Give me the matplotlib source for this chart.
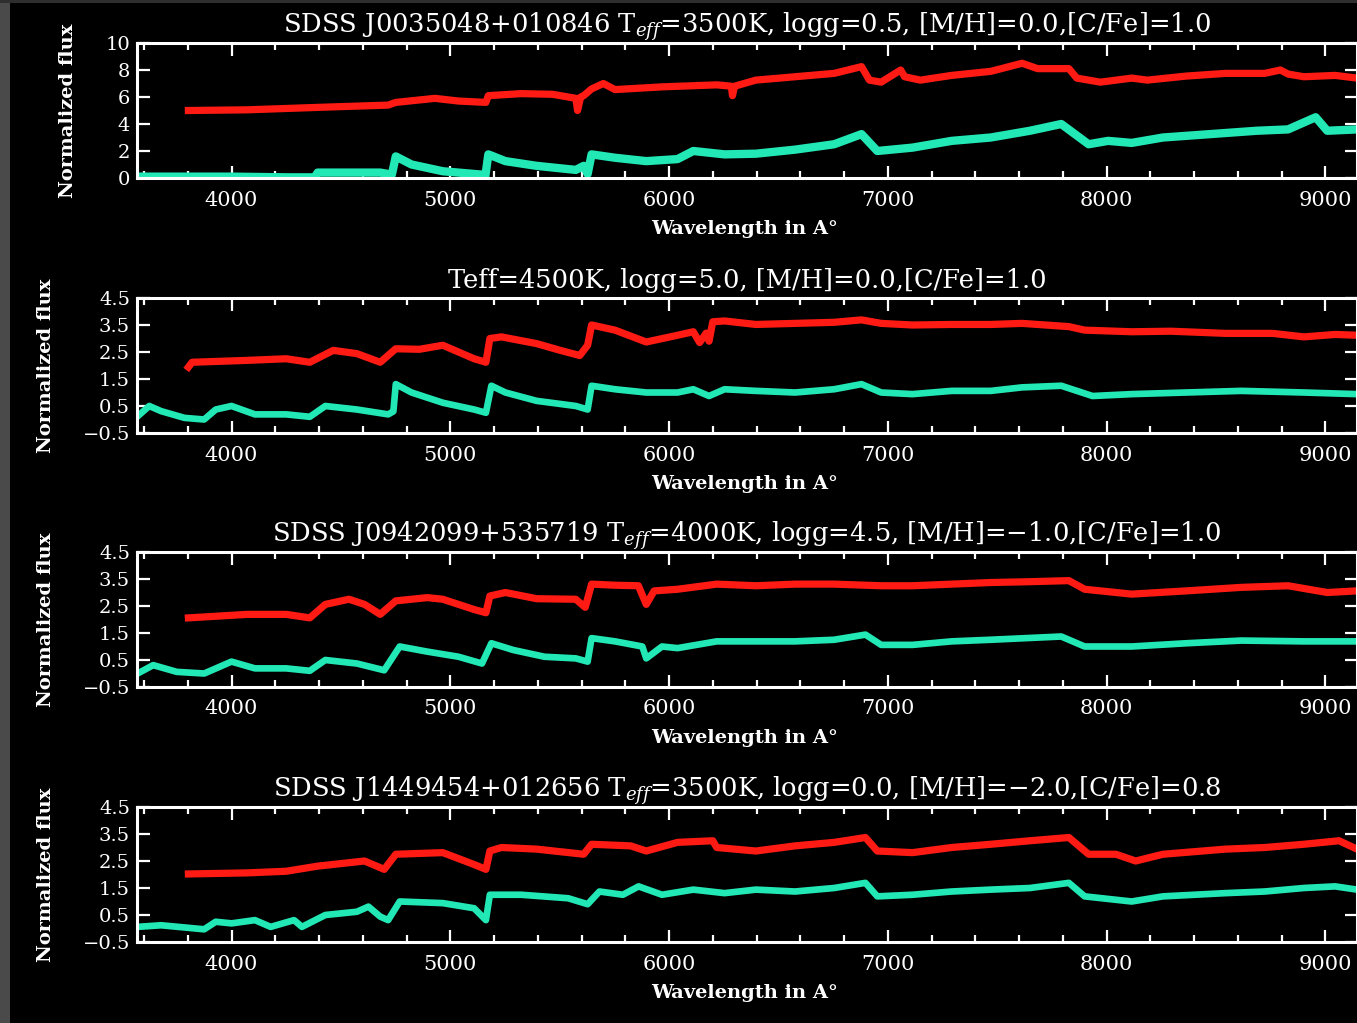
import numpy as np
import matplotlib
matplotlib.use("Agg")
import matplotlib.pyplot as plt
from matplotlib.ticker import MultipleLocator, FixedLocator
from matplotlib.patches import Rectangle

plt.rcParams['font.family'] = ['DejaVu Serif']
plt.rcParams['mathtext.fontset'] = 'dejavuserif'

RED = '#ff1a14'
CYAN = '#22e8b6'

# ---- panel 1: SDSS J0035048+010846 ----
wl_red_1 = [3803, 4072, 4429, 4716, 4751, 4930, 5038, 5163, 5174, 5324, 5467, 5539, 5574,
            5582, 5596, 5610, 5646, 5700, 5753, 5968, 6218, 6285, 6290, 6300, 6397, 6576,
            6755, 6880, 6916, 6970, 7059, 7077, 7149, 7292, 7471, 7614, 7685, 7828, 7864,
            7972, 8115, 8186, 8365, 8544, 8723, 8795, 8830, 8902, 9045, 9145]
flux_red_1 = [5.0, 5.05, 5.25, 5.4, 5.6, 5.9, 5.7, 5.6, 6.1, 6.25, 6.2, 6.0, 5.9,
              5.0, 6.0, 6.1, 6.6, 7.0, 6.55, 6.75, 6.9, 6.8, 6.1, 6.8, 7.25, 7.5,
              7.75, 8.25, 7.25, 7.1, 8.0, 7.5, 7.25, 7.6, 7.9, 8.5, 8.1, 8.1, 7.4,
              7.1, 7.4, 7.25, 7.55, 7.75, 7.75, 8.0, 7.7, 7.5, 7.6, 7.4]
wl_cyan_1 = [3571, 4000, 4250, 4380, 4394, 4680, 4733, 4751, 4823, 4966, 5145, 5160, 5174,
             5252, 5395, 5574, 5610, 5628, 5646, 5753, 5896, 6039, 6111, 6254, 6397, 6576,
             6755, 6880, 6952, 7113, 7292, 7471, 7650, 7793, 7918, 8007, 8115, 8258, 8473,
             8687, 8830, 8956, 9009, 9145]
flux_cyan_1 = [0.1, 0.1, 0.05, 0.05, 0.4, 0.4, 0.25, 1.6, 1.0, 0.5, 0.25, 0.1, 1.75,
               1.25, 0.9, 0.6, 0.9, 0.3, 1.75, 1.5, 1.25, 1.4, 2.0, 1.75, 1.8, 2.1,
               2.5, 3.25, 2.0, 2.25, 2.75, 3.0, 3.5, 4.0, 2.5, 2.75, 2.6, 3.0, 3.25,
               3.5, 3.6, 4.5, 3.5, 3.6]

# ---- panel 2: synthetic Teff=4500K ----
wl_red_2 = [3803, 3820, 4072, 4250, 4358, 4465, 4573, 4680, 4751, 4859, 4966, 5109, 5163,
            5181, 5234, 5395, 5503, 5592, 5628, 5646, 5753, 5896, 6039, 6111, 6140, 6170,
            6183, 6200, 6254, 6397, 6576, 6755, 6880, 6970, 7113, 7292, 7471, 7614, 7828,
            7900, 8115, 8294, 8544, 8759, 8902, 9045, 9145]
flux_red_2 = [1.94, 2.12, 2.19, 2.25, 2.12, 2.56, 2.44, 2.12, 2.62, 2.6, 2.75, 2.25, 2.12,
              3.0, 3.06, 2.81, 2.56, 2.37, 2.75, 3.5, 3.31, 2.87, 3.12, 3.25, 2.85, 3.2,
              2.9, 3.62, 3.65, 3.52, 3.56, 3.6, 3.69, 3.56, 3.5, 3.52, 3.52, 3.56, 3.44,
              3.31, 3.25, 3.27, 3.19, 3.19, 3.06, 3.15, 3.12]
wl_cyan_2 = [3571, 3624, 3678, 3785, 3875, 3928, 4000, 4107, 4250, 4358, 4429, 4573, 4716,
             4740, 4751, 4823, 4966, 5109, 5163, 5188, 5252, 5395, 5574, 5628, 5646, 5753,
             5896, 6039, 6111, 6183, 6254, 6397, 6576, 6755, 6880, 6970, 7113, 7292, 7471,
             7614, 7793, 7936, 8115, 8365, 8616, 8902, 9145]
flux_cyan_2 = [0.12, 0.5, 0.31, 0.06, 0.0, 0.37, 0.5, 0.19, 0.19, 0.1, 0.5, 0.37, 0.19,
               0.3, 1.31, 1.0, 0.62, 0.37, 0.25, 1.25, 1.0, 0.69, 0.5, 0.37, 1.25, 1.12,
               1.0, 1.0, 1.12, 0.87, 1.12, 1.06, 1.0, 1.12, 1.31, 1.0, 0.94, 1.06, 1.06,
               1.19, 1.25, 0.87, 0.94, 1.0, 1.06, 1.0, 0.94]

# ---- panel 3: SDSS J0942099+535719 ----
wl_red_3 = [3803, 4072, 4250, 4358, 4429, 4537, 4608, 4680, 4751, 4895, 4966, 5109, 5163,
            5181, 5252, 5395, 5574, 5617, 5646, 5753, 5860, 5896, 5932, 6039, 6218, 6397,
            6576, 6755, 6970, 7113, 7292, 7471, 7650, 7828, 7900, 8115, 8365, 8616, 8830,
            9009, 9145]
flux_red_3 = [2.06, 2.19, 2.19, 2.06, 2.56, 2.75, 2.56, 2.19, 2.69, 2.81, 2.75, 2.37, 2.25,
              2.87, 3.0, 2.77, 2.75, 2.45, 3.31, 3.27, 3.25, 2.56, 3.06, 3.12, 3.31, 3.25,
              3.31, 3.31, 3.25, 3.25, 3.31, 3.37, 3.4, 3.44, 3.12, 2.94, 3.06, 3.19, 3.25,
              3.0, 3.06]
wl_cyan_3 = [3571, 3642, 3750, 3875, 4000, 4107, 4250, 4358, 4429, 4573, 4698, 4769, 4895,
             5038, 5145, 5188, 5288, 5431, 5574, 5628, 5646, 5753, 5878, 5896, 5968, 6039,
             6218, 6397, 6576, 6755, 6898, 6970, 7113, 7292, 7471, 7793, 7900, 8115, 8365,
             8616, 8902, 9145]
flux_cyan_3 = [0.0, 0.31, 0.06, 0.0, 0.44, 0.19, 0.19, 0.1, 0.5, 0.37, 0.12, 1.0, 0.81,
               0.62, 0.37, 1.12, 0.87, 0.62, 0.56, 0.44, 1.31, 1.19, 1.0, 0.56, 1.0, 0.94,
               1.19, 1.19, 1.19, 1.25, 1.44, 1.06, 1.06, 1.19, 1.25, 1.37, 1.0, 1.0, 1.12,
               1.22, 1.19, 1.19]

# ---- panel 4: SDSS J1449454+012656 ----
wl_red_4 = [3803, 4072, 4250, 4394, 4608, 4698, 4751, 4966, 5109, 5163, 5181, 5234, 5395,
            5610, 5646, 5825, 5896, 6039, 6200, 6218, 6397, 6576, 6755, 6898, 6952, 7113,
            7292, 7471, 7650, 7828, 7918, 8043, 8133, 8258, 8544, 8723, 8902, 9063, 9145]
flux_red_4 = [2.02, 2.06, 2.12, 2.31, 2.5, 2.19, 2.75, 2.81, 2.37, 2.19, 2.87, 3.0, 2.94,
              2.75, 3.12, 3.06, 2.87, 3.19, 3.25, 3.0, 2.87, 3.06, 3.19, 3.37, 2.87, 2.81,
              3.0, 3.12, 3.25, 3.37, 2.75, 2.75, 2.5, 2.75, 2.94, 3.0, 3.12, 3.25, 2.94]
wl_cyan_4 = [3571, 3678, 3875, 3928, 4000, 4107, 4179, 4286, 4322, 4429, 4573, 4626, 4680,
             4716, 4769, 4966, 5109, 5163, 5181, 5324, 5539, 5628, 5682, 5789, 5861, 5968,
             6111, 6254, 6397, 6576, 6755, 6898, 6952, 7113, 7292, 7471, 7650, 7828, 7900,
             8115, 8258, 8544, 8723, 8902, 9045, 9145]
flux_cyan_4 = [0.06, 0.12, -0.03, 0.25, 0.19, 0.31, 0.06, 0.31, 0.06, 0.5, 0.62, 0.81, 0.44,
               0.31, 1.0, 0.94, 0.75, 0.31, 1.25, 1.25, 1.12, 0.9, 1.37, 1.25, 1.56, 1.25,
               1.44, 1.31, 1.44, 1.37, 1.5, 1.69, 1.19, 1.25, 1.37, 1.44, 1.5, 1.69, 1.19,
               1.0, 1.19, 1.31, 1.37, 1.5, 1.56, 1.44]

titles = [
    r"SDSS J0035048+010846 T$_{eff}$=3500K, logg=0.5, [M/H]=0.0,[C/Fe]=1.0",
    "Teff=4500K, logg=5.0, [M/H]=0.0,[C/Fe]=1.0",
    r"SDSS J0942099+535719 T$_{eff}$=4000K, logg=4.5, [M/H]=$-$1.0,[C/Fe]=1.0",
    r"SDSS J1449454+012656 T$_{eff}$=3500K, logg=0.0, [M/H]=$-$2.0,[C/Fe]=0.8",
]
red_sets = [(wl_red_1, flux_red_1), (wl_red_2, flux_red_2),
            (wl_red_3, flux_red_3), (wl_red_4, flux_red_4)]
cyan_sets = [(wl_cyan_1, flux_cyan_1), (wl_cyan_2, flux_cyan_2),
             (wl_cyan_3, flux_cyan_3), (wl_cyan_4, flux_cyan_4)]
ylims = [(0, 10), (-0.5, 4.5), (-0.5, 4.5), (-0.5, 4.5)]
yticks = [[0, 2, 4, 6, 8, 10], [-0.5, 0.5, 1.5, 2.5, 3.5, 4.5],
          [-0.5, 0.5, 1.5, 2.5, 3.5, 4.5], [-0.5, 0.5, 1.5, 2.5, 3.5, 4.5]]
yticklabels = [["0", "2", "4", "6", "8", "10"],
               ["\u22120.5", "0.5", "1.5", "2.5", "3.5", "4.5"],
               ["\u22120.5", "0.5", "1.5", "2.5", "3.5", "4.5"],
               ["\u22120.5", "0.5", "1.5", "2.5", "3.5", "4.5"]]

W, H = 1357, 1023
fig = plt.figure(figsize=(W / 100, H / 100), dpi=100, facecolor='black')

# grey frame strips at the left and top edges
fig.patches.append(Rectangle((0, 0), 10 / W, 1, transform=fig.transFigure,
                             facecolor='#4a4a4a', edgecolor='none', zorder=-5))
fig.patches.append(Rectangle((0, 1 - 3 / H), 1, 3 / H, transform=fig.transFigure,
                             facecolor='#2e2e2e', edgecolor='none', zorder=-5))

tops = [43, 298, 552, 807]
ph = 135
left = 137

for i in range(4):
    ax = fig.add_axes([left / W, 1 - (tops[i] + ph) / H, (W - left) / W, ph / H])
    ax.set_facecolor('black')
    wr, fr = red_sets[i]
    wc, fc = cyan_sets[i]
    lw_c = 6.0 if i == 0 else 4.8
    ax.plot(wr, fr, color=RED, lw=5.2, solid_joinstyle='round')
    ax.plot(wc, fc, color=CYAN, lw=lw_c, solid_joinstyle='round')

    ax.set_xlim(3568, 9145)
    ax.set_ylim(*ylims[i])
    ax.xaxis.set_major_locator(MultipleLocator(1000))
    ax.xaxis.set_minor_locator(MultipleLocator(200))
    ax.yaxis.set_major_locator(FixedLocator(yticks[i]))
    ax.set_yticklabels(yticklabels[i])

    for s in ax.spines.values():
        s.set_color('white')
        s.set_linewidth(2.2)
    ax.tick_params(which='both', direction='in', top=True, right=True, colors='white')
    ax.tick_params(which='major', length=9, width=1.6)
    ax.tick_params(which='minor', length=5, width=1.6)
    ax.tick_params(axis='x', labelsize=15, pad=9)
    ax.tick_params(axis='y', labelsize=14, pad=5)

    ax.set_title(titles[i], color='white', fontsize=18.5, pad=7)
    ax.set_xlabel("Wavelength in A\u00b0", color='white', fontsize=14, fontweight='bold')
    ax.xaxis.set_label_coords((745 - left) / (W - left), -0.31)
    ax.set_ylabel("Normalized flux", color='white', fontsize=14, fontweight='bold')
    ax.yaxis.set_label_coords((77 - left) / (W - left) if i == 0 else (55 - left) / (W - left), 0.5)

fig.savefig("out.png", dpi=100, facecolor='black')
